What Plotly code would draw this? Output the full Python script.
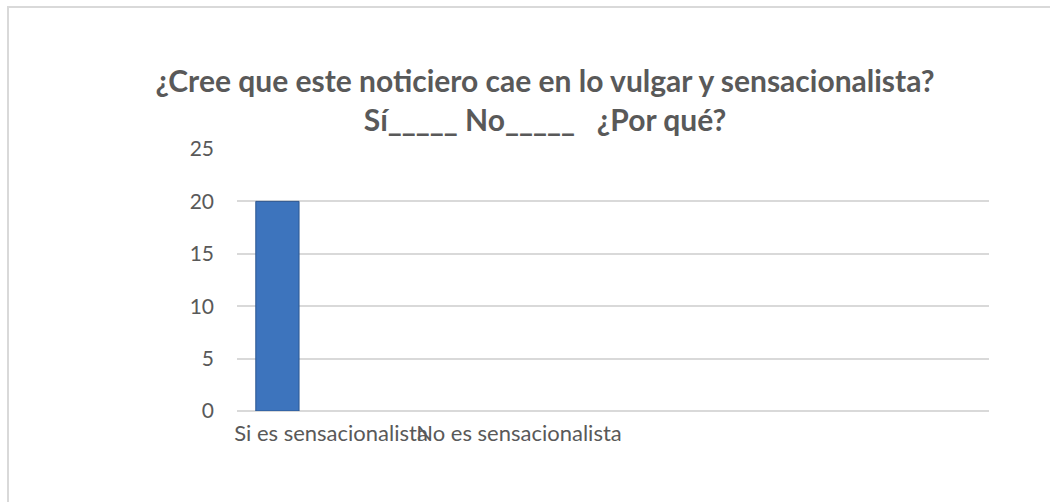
import plotly.graph_objects as go

# datos de la encuesta
categorias = ["Si es sensacionalista", "No es sensacionalista", "\u00a0", "\u00a0\u00a0"]
respuestas = [20, 0, None, None]
y_ticks = [0, 5, 10, 15, 20, 25]

titulo = ("¿Cree que este noticiero cae en lo vulgar y sensacionalista?<br>"
          "Sí_____ No_____\u00a0\u00a0\u00a0¿Por qué?")

W, H = 1050, 502
L, R, T, B = 237, 61, 149, 91
pw, ph = W - L - R, H - T - B


def px(x):
    return (x - L) / pw


def py(y):
    return (H - B - y) / ph


fig = go.Figure()
fig.add_trace(go.Bar(x=categorias, y=respuestas,
                     width=0.23, offset=-0.40,
                     marker=dict(color='#3d74bd',
                                 line=dict(color='#2c5690', width=[1, 0, 0, 0]))))

fig.update_layout(
    width=W, height=H,
    margin=dict(l=L, r=R, t=T, b=B),
    paper_bgcolor='white', plot_bgcolor='white',
    showlegend=False,
    font=dict(family='Lato, Open Sans, sans-serif', color='#595959'),
    title=dict(text=titulo, x=545 / W, xanchor='center',
               y=1 - 92 / H, yanchor='top', yref='container',
               font=dict(size=30, color='#595959', family='Lato, sans-serif', weight='bold')),
    xaxis=dict(type='category', tickangle=0, showgrid=False, showline=False,
               tickfont=dict(size=22, color='#595959'), ticklabelstandoff=7),
    yaxis=dict(range=[0, 25], tickvals=y_ticks, showgrid=True,
               gridcolor='#d9d9d9', gridwidth=1.5, zeroline=True,
               zerolinecolor='#d9d9d9', zerolinewidth=1.5,
               tickfont=dict(size=21, color='#595959'), ticklabelstandoff=22),
    shapes=[dict(type='rect', xref='paper', yref='paper',
                 x0=px(8), x1=px(1070), y0=py(520), y1=py(7),
                 line=dict(color='#d9d9d9', width=2), layer='below')],
)

fig.write_html("out.html", config={'displayModeBar': False},
               post_script="document.body.style.margin='0';")
